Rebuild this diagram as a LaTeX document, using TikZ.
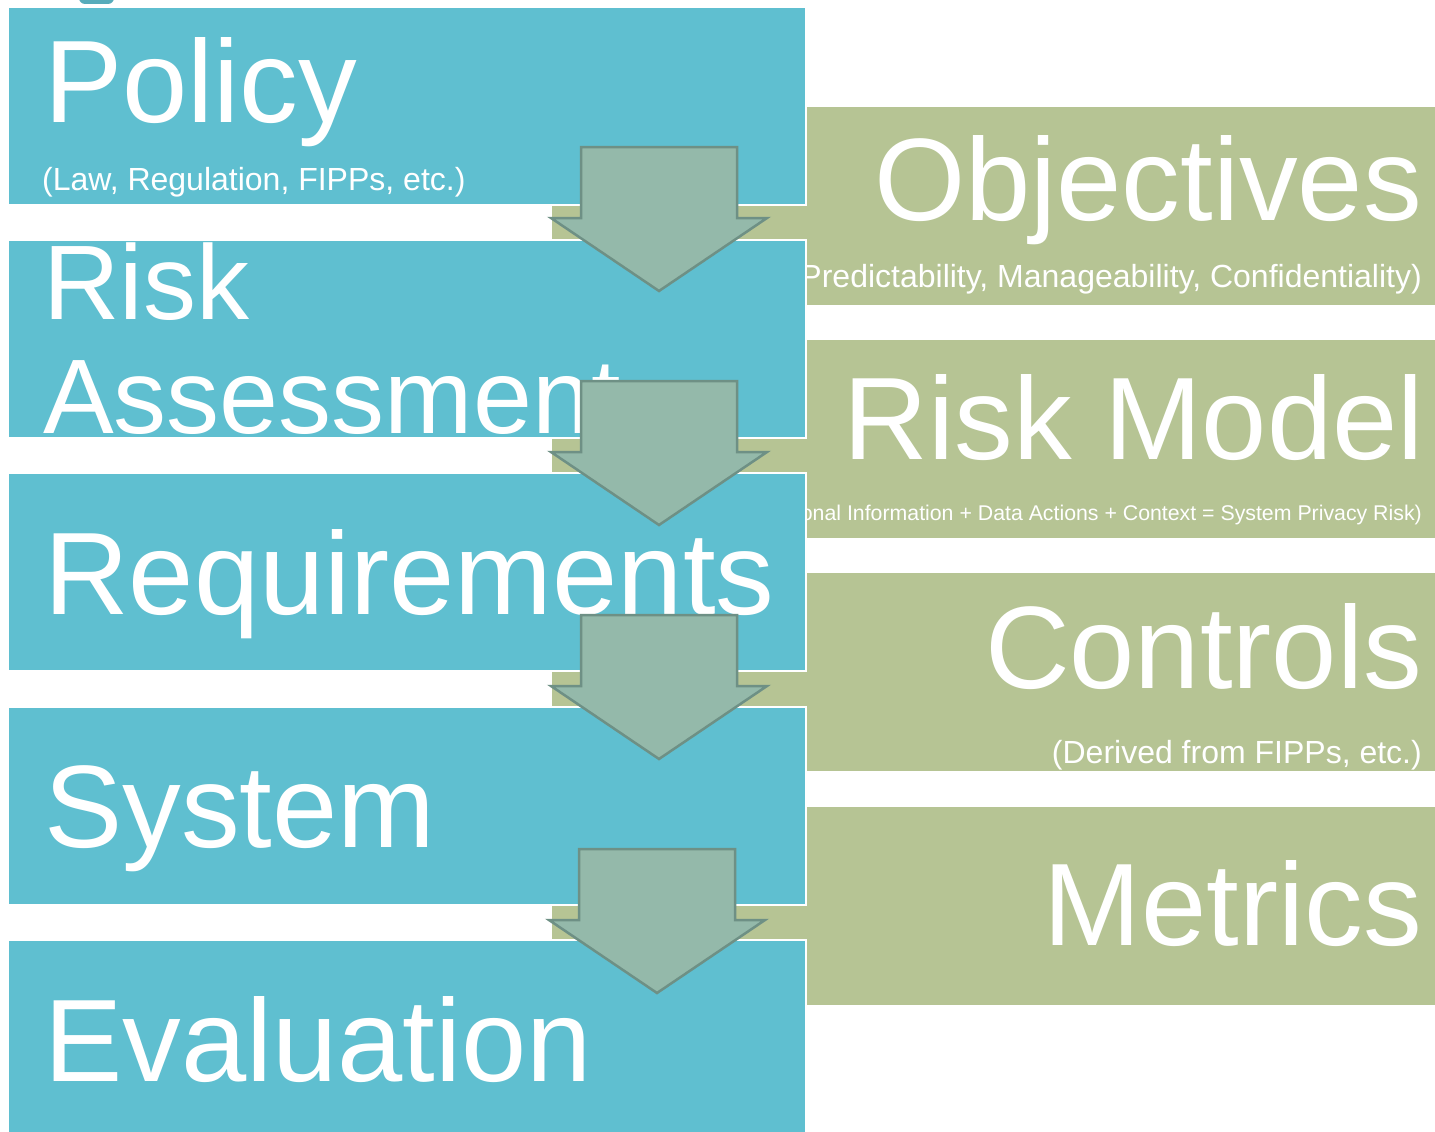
\documentclass[tikz,border=0pt]{standalone}
\usepackage{fontspec}
\setmainfont{Liberation Sans}
\definecolor{cblue}{HTML}{5FBFD0}
\definecolor{cgreen}{HTML}{B6C494}
\definecolor{carrow}{HTML}{94B9AA}
\definecolor{carrowline}{HTML}{6E9085}
\newcommand{\blkarrow}[2]{%
  \draw[arrowshape] ({#1-78},{#2}) -- ({#1+78},{#2}) -- ({#1+78},{#2+71}) -- ({#1+108},{#2+71})
    -- ({#1},{#2+144}) -- ({#1-108},{#2+71}) -- ({#1-78},{#2+71}) -- cycle;}
\begin{document}
\begin{tikzpicture}[x=1pt,y=-1pt,
  bluebox/.style={draw=white,line width=2.5pt,fill=cblue,inner sep=0pt,outer sep=0pt,
    minimum width=798pt,minimum height=198pt,anchor=north west},
  greenbox/.style={draw=white,line width=1.5pt,fill=cgreen,inner sep=0pt,outer sep=0pt,
    minimum width=900pt,minimum height=200pt,anchor=north west},
  bigleft/.style={text=white,inner sep=0pt,anchor=base west,font=\fontsize{117.3}{117.3}\selectfont},
  bigright/.style={text=white,inner sep=0pt,anchor=base east,font=\fontsize{117.3}{117.3}\selectfont},
  subleft/.style={text=white,inner sep=0pt,anchor=base west,font=\fontsize{32}{32}\selectfont},
  subright/.style={text=white,inner sep=0pt,anchor=base east,font=\fontsize{32}{32}\selectfont},
  arrowshape/.style={fill=carrow,draw=carrowline,line width=2.5pt,line join=miter}]
\useasboundingbox (0,0) rectangle (1435,1132);
\clip (0,0) rectangle (1435,1132);
\fill[white] (0,0) rectangle (1435,1132);
% small partial shape at top
\path[fill=cblue!90!black,rounded corners=6pt] (79,-30) rectangle (114,4);
% green boxes
\node[greenbox] (gobj) at (551,106) {};
\node[greenbox] (grisk) at (551,339) {};
\node[greenbox] (gctrl) at (551,572) {};
\node[greenbox] (gmetr) at (551,806) {};
\node[bigright] (tobj) at (1422,220) {Objectives};
\node[subright] (sobj) at (1422,287) {(Predictability, Manageability, Confidentiality)};
\node[bigright] (trisk) at (1424,459) {Risk Model};
\node[subright,font=\fontsize{21.3}{21.3}\selectfont] (srisk) at (1422,520)
  {(Personal Information + Data Actions + Context = System Privacy Risk)};
\node[bigright] (tctrl) at (1422,688) {Controls};
\node[subright] (sctrl) at (1422,763) {(Derived from FIPPs, etc.)};
\node[bigright] (tmetr) at (1422,945) {Metrics};
% blue boxes
\node[bluebox] (bpol) at (8,7) {};
\node[bluebox] (brisk) at (8,240) {};
\node[bluebox] (breq) at (8,473) {};
\node[bluebox] (bsys) at (8,707) {};
\node[bluebox,minimum height=230pt] (beval) at (8,940) {};
\node[bigleft] (tpol) at (44,122) {Policy};
\node[subleft] (spol) at (42,190) {(Law, Regulation, FIPPs, etc.)};
\node[bigleft,font=\fontsize{106}{106}\selectfont] (trisk1) at (43,319) {Risk};
\node[bigleft,font=\fontsize{106}{106}\selectfont] (trisk2) at (43,433) {Assessment};
\node[bigleft] (treq) at (44,614) {Requirements};
\node[bigleft] (tsys) at (44,847) {System};
\node[bigleft] (teval) at (44,1081) {Evaluation};
% block arrows
\blkarrow{659}{147}
\blkarrow{659}{381}
\blkarrow{659}{615}
\blkarrow{657}{849}
\end{tikzpicture}
\end{document}
